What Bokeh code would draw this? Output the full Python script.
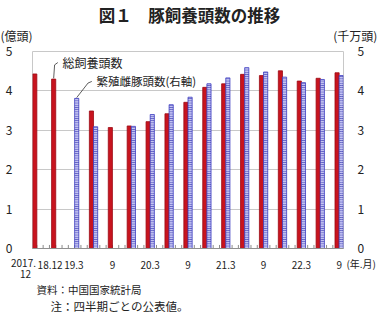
import math
from bokeh.plotting import figure
from bokeh.models import ColumnDataSource, Range1d, LinearAxis, FixedTicker
from bokeh.core.properties import value
from bokeh.embed import file_html
from bokeh.resources import INLINE

nan = float("nan")
periods = ["2017.12", "18.12", "19.3", "19.6", "19.9", "19.12", "20.3", "20.6", "20.9",
           "20.12", "21.3", "21.6", "21.9", "21.12", "22.3", "22.6", "22.9"]
tick_index = [1, 2, 4, 6, 8, 10, 12, 14, 16]
tick_texts = ["18.12", "19.3", "9", "20.3", "9", "21.3", "9", "22.3", "9"]
first_tick_lines = ["2017.", "12"]
# 総飼養頭数 (億頭)
total_pigs = [4.43, 4.30, nan, 3.49, 3.07, 3.11, 3.22, 3.42, 3.71, 4.09, 4.18, 4.42, 4.39, 4.51, 4.25, 4.32, 4.46]
# 繁殖雌豚頭数 (千万頭, 右軸)
breeding_sows = [nan, nan, 3.81, 3.09, nan, 3.10, 3.40, 3.65, 3.84, 4.18, 4.33, 4.59, 4.48, 4.35, 4.21, 4.29, 4.39]

FONT = "Noto Sans CJK JP"
TXT = "#222222"
BW = 0.22
OFF = 0.11
label_nudge = {1: -0.3, 2: -0.04}

p = figure(width=378, height=312, output_backend="svg", toolbar_location=None,
           x_range=Range1d(-0.23, 16.23), y_range=Range1d(0, 5),
           min_border_left=32, min_border_right=35, min_border_top=51, min_border_bottom=64)
p.extra_y_ranges = {"right": Range1d(0, 5)}

# monthly tick marks along the bottom (three per quarter), drawn behind the bars
mt = [k / 3 for k in range(0, 49)]
p.segment(x0=mt, x1=mt, y0=[0] * len(mt), y1=[0.09] * len(mt),
          line_color="#8C8C8C", line_width=1)

xt = [i - OFF for i, v in enumerate(total_pigs) if not math.isnan(v)]
yt = [v for v in total_pigs if not math.isnan(v)]
xs = [i + OFF for i, v in enumerate(breeding_sows) if not math.isnan(v)]
ys = [v for v in breeding_sows if not math.isnan(v)]

p.vbar(x="x", top="top", width=BW, source=ColumnDataSource(dict(x=xt, top=yt)),
       fill_color="#C8141E", line_color="#9C0A14", line_width=0.8)
p.vbar(x="x", top="top", width=BW, source=ColumnDataSource(dict(x=xs, top=ys)),
       y_range_name="right", fill_color="#C4C4F2", line_color="#3C3CC0", line_width=0.8,
       hatch_pattern="horizontal_line", hatch_color="#2828A8", hatch_scale=2.2, hatch_weight=0.8)

# x axis
tick_pos = [round(i + label_nudge.get(i, 0.0), 2) for i in tick_index]
p.xaxis.ticker = FixedTicker(ticks=tick_pos)
p.xaxis.major_label_overrides = {pos: t for pos, t in zip(tick_pos, tick_texts)}
p.xaxis.major_tick_line_color = None
p.xaxis.minor_tick_line_color = None
p.xaxis.axis_line_color = "#909090"
p.xaxis.major_label_text_font = FONT
p.xaxis.major_label_text_font_size = "10px"
p.xaxis.major_label_text_color = TXT
p.xaxis.major_label_standoff = 6

# y axes
p.yaxis.ticker = FixedTicker(ticks=[0, 1, 2, 3, 4, 5])
right = LinearAxis(y_range_name="right", ticker=FixedTicker(ticks=[0, 1, 2, 3, 4, 5]))
p.add_layout(right, "right")
for ax in (p.yaxis[0], right):
    ax.axis_line_color = None
    ax.major_tick_line_color = None
    ax.minor_tick_line_color = None
    ax.major_label_text_font = FONT
    ax.major_label_text_font_size = "12px"
    ax.major_label_text_color = TXT
p.yaxis[0].major_label_standoff = 14
right.major_label_standoff = 8

p.xgrid.grid_line_color = None
p.ygrid.grid_line_color = "#C8C8C8"
p.ygrid.ticker = FixedTicker(ticks=[1, 2, 3, 4])
p.outline_line_color = "#C8C8C8"

# pixel -> data conversion for free text placement (frame: x 32..343, y 51..248)
def dx(px):
    return (px - 32) / 18.9 - 0.23

def dy(py):
    return (248 - py) * 5 / 197

def txt(px, py, text, size, align="left", base="middle", style="normal"):
    p.text(x=[dx(px)], y=[dy(py)], text=[text], text_font=value(FONT), text_font_size=size,
           text_align=align, text_baseline=base, text_color=TXT, text_font_style=style,
           level="overlay")

txt(189, 14, "図１　豚飼養頭数の推移", "16.5px", align="center", style="bold")
txt(0, 35, "(億頭)", "12px")
txt(377, 35, "(千万頭)", "12px", align="right")
txt(23, 262, first_tick_lines[0], "10px", align="center")
txt(25, 273, first_tick_lines[1], "10px", align="center")
txt(346, 263, "(年.月)", "10px")
txt(62, 62, "総飼養頭数", "12px")
txt(96, 80, "繁殖雌豚頭数(右軸)", "11.5px")
txt(36, 289, "資料：中国国家統計局", "10.5px")
txt(50, 305, "注：四半期ごとの公表値。", "11.5px")

# leader lines from bar tops to labels
i1 = 1
p.line([i1 - OFF, i1 - OFF + 0.05, i1 - OFF + 0.22], [total_pigs[i1] + 0.02, 4.66, 4.72],
       line_color="#333333", line_width=0.8)
i2 = 2
p.line([i2 + OFF, i2 + OFF + 0.6, i2 + OFF + 0.8], [breeding_sows[i2] + 0.02, 4.2, 4.24],
       y_range_name="right", line_color="#333333", line_width=0.8)

open("out.html", "w").write(file_html(p, INLINE))
